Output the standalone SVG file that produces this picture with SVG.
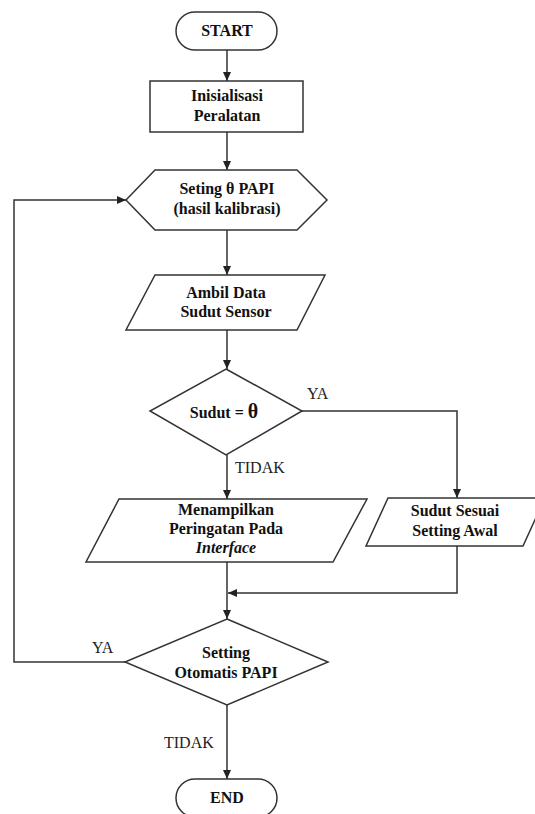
<svg xmlns="http://www.w3.org/2000/svg" width="535" height="814" viewBox="0 0 535 814">
<defs>
<marker id="ah" markerWidth="10" markerHeight="10" refX="9" refY="5" orient="auto" markerUnits="userSpaceOnUse">
<path d="M0,1 L9,5 L0,9 Z" fill="#222"/>
</marker>
<style>
.shape{fill:#fff;stroke:#333;stroke-width:1.5}
.conn{fill:none;stroke:#333;stroke-width:1.5;marker-end:url(#ah)}
.t{font-family:'Times New Roman','Liberation Serif',serif;font-size:16px;font-weight:bold;fill:#111;text-anchor:middle}
.l{font-family:'Times New Roman','Liberation Serif',serif;font-size:16px;fill:#222}
</style>
</defs>
<rect width="535" height="814" fill="#fff"/>
<g id="connectors">
<path class="conn" d="M227,50 V81"/>
<path class="conn" d="M227,132 V170"/>
<path class="conn" d="M227,230 V275"/>
<path class="conn" d="M227,330 V369"/>
<path class="conn" d="M302,411 H457 V498"/>
<path class="conn" d="M227,455 V499"/>
<path class="conn" d="M227,562 V619"/>
<path class="conn" d="M457,546 V593 H228"/>
<path class="conn" d="M125,662 H14 V200 H126"/>
<path class="conn" d="M227,705 V779"/>
<text class="l" x="307" y="399">YA</text>
<text class="l" x="235" y="473">TIDAK</text>
<text class="l" x="92" y="653">YA</text>
<text class="l" x="164" y="748">TIDAK</text>
</g>
<g id="start">
<rect class="shape" x="176" y="12" width="101" height="38" rx="19" ry="19"/>
<text class="t" x="227" y="36">START</text>
</g>
<g id="init">
<rect class="shape" x="150" y="81" width="153" height="51"/>
<text class="t" x="227" y="101">Inisialisasi</text>
<text class="t" x="227" y="121">Peralatan</text>
</g>
<g id="seting">
<polygon class="shape" points="126,200 155,170 297,170 327,200 297,230 155,230"/>
<text class="t" x="227" y="194">Seting θ PAPI</text>
<text class="t" x="227" y="214">(hasil kalibrasi)</text>
</g>
<g id="ambil">
<polygon class="shape" points="155,275 325,275 297,330 126,330"/>
<text class="t" x="226" y="298">Ambil Data</text>
<text class="t" x="226" y="317">Sudut Sensor</text>
</g>
<g id="sudut">
<polygon class="shape" points="226,369 302,411 226,455 150,411"/>
<text class="t" x="224" y="418">Sudut = <tspan font-size="20px">θ</tspan></text>
</g>
<g id="menampilkan">
<polygon class="shape" points="119,499 367,499 333,562 86,562"/>
<text class="t" x="226" y="515">Menampilkan</text>
<text class="t" x="226" y="534">Peringatan Pada</text>
<text class="t" x="226" y="553" font-style="italic" font-weight="normal">Interface</text>
</g>
<g id="sesuai">
<polygon class="shape" points="388,498 545,498 523,546 366,546"/>
<text class="t" x="455" y="516">Sudut Sesuai</text>
<text class="t" x="455" y="536">Setting Awal</text>
</g>
<g id="otomatis">
<polygon class="shape" points="227,619 328,662 227,705 125,662"/>
<text class="t" x="226" y="658">Setting</text>
<text class="t" x="226" y="678">Otomatis PAPI</text>
</g>
<g id="end">
<rect class="shape" x="176" y="779" width="101" height="38" rx="19" ry="19"/>
<text class="t" x="227" y="803">END</text>
</g>
</svg>
